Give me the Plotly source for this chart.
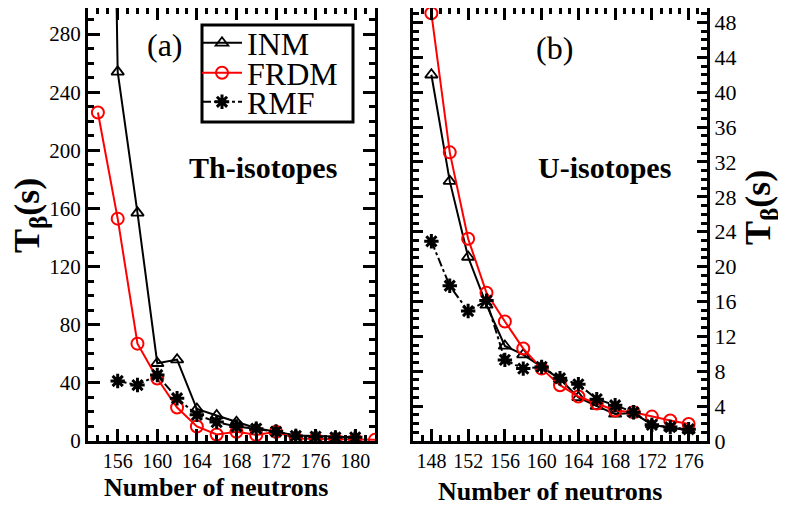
import plotly.graph_objects as go

# ---- Data ----
th_n_inm = [154, 156, 158, 160, 162, 164, 166, 168, 170, 172, 174, 176, 178, 180]
th_inm = [1100, 254, 157, 53.5, 56, 22, 17.5, 13, 8.8, 6.4, 3.8, 3.5, 2.8, 2.5]
th_n_frdm = [154, 156, 158, 160, 162, 164, 166, 168, 170, 172, 174, 176, 178, 180, 182]
th_frdm = [226, 153, 67, 43, 23, 10, 4.5, 6.4, 4.2, 6.4, 1.8, 1.5, 1.2, 1.0, 0.8]
th_n_rmf = [156, 158, 160, 162, 164, 166, 168, 170, 172, 174, 176, 178, 180]
th_rmf = [41.3, 38.5, 45.4, 29.4, 18, 13, 10, 8.5, 6.5, 3.5, 3.0, 2.5, 2.5]

u_n = [148, 150, 152, 154, 156, 158, 160, 162, 164, 166, 168, 170, 172, 174, 176]
u_inm = [42.0, 29.8, 21.1, 15.6, 10.9, 9.9, 8.5, 7.1, 5.0, 4.0, 3.1, 3.2, 1.9, 1.5, 1.25]
u_frdm = [49.05, 33.1, 23.2, 17.0, 13.7, 10.6, 8.3, 6.4, 5.1, 4.3, 3.5, 3.3, 2.8, 2.35, 1.95]
u_rmf = [22.9, 17.8, 14.9, 16.1, 9.3, 8.3, 8.5, 7.2, 6.5, 4.8, 4.1, 3.3, 1.85, 1.6, 1.35]

th_yticks = [0, 40, 80, 120, 160, 200, 240, 280]
th_xticks = [156, 160, 164, 168, 172, 176, 180]
u_yticks = [0, 4, 8, 12, 16, 20, 24, 28, 32, 36, 40, 44, 48]
u_xticks = [148, 152, 156, 160, 164, 168, 172, 176]

FONT = "Times New Roman, Liberation Serif, Times, serif"
OFF = 8          # default page (body) margin
W, H = 786 - OFF, 508 - OFF


def fx(xp):
    return (xp - OFF) / W


def fy(yp):
    return min(1.0, 1 - (yp - OFF) / H)


fig = go.Figure()

styles = {
    "INM": dict(line=dict(color="black", width=2),
                marker=dict(symbol="triangle-up-open", size=11, color="black",
                            line=dict(width=1.8, color="black"))),
    "FRDM": dict(line=dict(color="#ff0000", width=2),
                 marker=dict(symbol="circle-open", size=12, color="#ff0000",
                             line=dict(width=2, color="#ff0000"))),
    "RMF": dict(line=dict(color="black", width=2, dash="dashdot"),
                marker=dict(symbol="asterisk-open", size=12, color="black",
                            line=dict(width=3, color="black"))),
}
legend_of = {"INM": "legend", "FRDM": "legend2", "RMF": "legend3"}

for name, xs, ys in [("INM", th_n_inm, th_inm), ("FRDM", th_n_frdm, th_frdm), ("RMF", th_n_rmf, th_rmf)]:
    fig.add_trace(go.Scatter(x=xs, y=ys, mode="lines+markers", name=name,
                             xaxis="x", yaxis="y", showlegend=True,
                             legend=legend_of[name], **styles[name]))
for name, ys in [("INM", u_inm), ("FRDM", u_frdm), ("RMF", u_rmf)]:
    fig.add_trace(go.Scatter(x=u_n, y=ys, mode="lines+markers", name=name,
                             xaxis="x2", yaxis="y2", showlegend=False, **styles[name]))

xd1 = [fx(88), fx(375)]
xd2 = [fx(413), fx(707)]
top_px = OFF          # top of the frames (page px)
yd = [fy(441), fy(top_px)]
th_top = 300 * (441 - top_px) / (441 - 5)
u_top = 50 * (441 - top_px) / (441 - 5)

axis_common = dict(showgrid=False, zeroline=False, showline=True, linecolor="black",
                   linewidth=3, ticks="inside", tickcolor="black", tickwidth=2.5,
                   mirror="ticks", automargin=False)


def minor(d):
    return dict(dtick=d, tick0=0, ticklen=6, tickwidth=2.5, ticks="inside", tickcolor="black")


def leg(yp):
    return dict(x=fx(197), y=fy(yp), xanchor="left", yanchor="middle",
                bgcolor="rgba(0,0,0,0)", borderwidth=0,
                font=dict(family=FONT, size=32, color="black"), itemwidth=40)


fig.update_layout(
    width=W, height=H,
    margin=dict(l=0, r=0, t=0, b=0),
    paper_bgcolor="white", plot_bgcolor="white",
    font=dict(family=FONT, color="black"),
    xaxis=dict(domain=xd1, anchor="y", range=[153, 182], tickmode="array",
               tickvals=th_xticks, ticklen=12, minor=minor(1),
               tickfont=dict(family=FONT, size=20, color="black"), **axis_common),
    yaxis=dict(domain=yd, anchor="x", range=[0, th_top], tickmode="array",
               tickvals=th_yticks, ticklen=12, minor=minor(10),
               tickfont=dict(family=FONT, size=21, color="black"), **axis_common),
    xaxis2=dict(domain=xd2, anchor="y2", range=[146, 178], tickmode="array",
                tickvals=u_xticks, ticklen=12, minor=minor(1),
                tickfont=dict(family=FONT, size=20, color="black"), **axis_common),
    yaxis2=dict(domain=yd, anchor="x2", side="right", range=[0, u_top], tickmode="array",
                tickvals=u_yticks, ticklen=10, minor=minor(1),
                tickfont=dict(family=FONT, size=22, color="black"), **axis_common),
    legend=leg(43),
    legend2=leg(73),
    legend3=leg(102),
)

# legend frame
fig.add_shape(type="rect", xref="paper", yref="paper",
              x0=fx(202), x1=fx(353), y0=fy(122), y1=fy(25),
              line=dict(color="black", width=3), fillcolor="white", layer="above")

ann = [
    ("(a)", 165, 45, 32),
    ("(b)", 554, 48, 32),
    ("<b>Th-isotopes</b>", 263, 167, 30),
    ("<b>U-isotopes</b>", 604, 167, 30),
    ("<b>Number of neutrons</b>", 216, 487, 26),
    ("<b>Number of neutrons</b>", 550, 491, 26),
]
for text, xp, yp, size in ann:
    fig.add_annotation(text=text, x=fx(xp), y=fy(yp), xref="paper", yref="paper",
                       showarrow=False, xanchor="center", yanchor="middle",
                       font=dict(family=FONT, size=size, color="black"))

for xp, yp in [(30, 216), (760, 208)]:
    fig.add_annotation(text="<b>T<sub>β</sub>(s)</b>", x=fx(xp), y=fy(yp), xref="paper", yref="paper",
                       showarrow=False, textangle=-90, xanchor="center", yanchor="middle",
                       font=dict(family=FONT, size=36, color="black"))

fig.write_html("out.html")
